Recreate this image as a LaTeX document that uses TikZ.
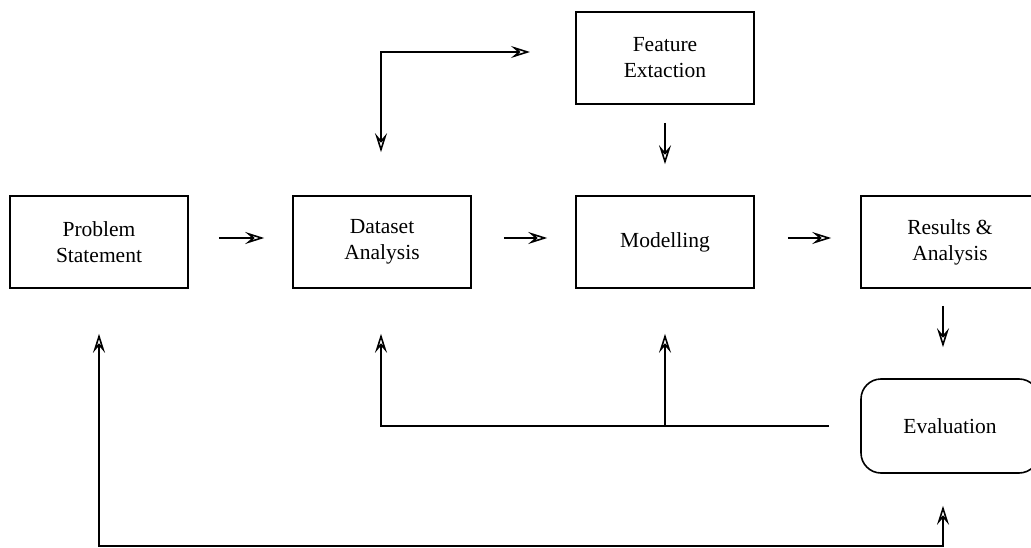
\documentclass[tikz,border=0pt]{standalone}
\usepackage{fontspec}
\setmainfont{Liberation Serif}
\usetikzlibrary{arrows.meta}
\begin{document}
\begin{tikzpicture}[x=1pt,y=-1pt,
  box/.style={draw,line width=1.6pt,minimum width=178pt,minimum height=92pt,align=center,
    font=\fontsize{21.5}{26}\selectfont,inner sep=0pt},
  rbox/.style={box,rounded corners=20pt,minimum height=94pt},
  tip/.tip={Stealth[length=19pt,width=12pt,inset=7pt,open,line width=1.6pt]},
  conn/.style={line width=1.6pt}
]
\useasboundingbox (0,0) rectangle (1031,548);
\node[box] (ps) at (99,242) {Problem\\Statement};
\node[box] (da) at (382,242) {Dataset\\Analysis};
\node[box] (mo) at (665,242) {Modelling};
\node[box] (ra) at (950,242) {Results \&\\Analysis};
\node[box] (fe) at (665,58) {Feature\\Extaction};
\node[rbox] (ev) at (950,426) {Evaluation};

\draw[conn,-tip,shorten <=30pt,shorten >=28pt] ([yshift=4pt]ps.east) -- ([yshift=4pt]da.west);
\draw[conn,-tip,shorten <=32pt,shorten >=28pt] ([yshift=4pt]da.east) -- ([yshift=4pt]mo.west);
\draw[conn,-tip,shorten <=33pt,shorten >=29pt] ([yshift=4pt]mo.east) -- ([yshift=4pt]ra.west);
\draw[conn,-tip,shorten <=18pt,shorten >=31pt] (fe.south) -- (mo.north);
\draw[conn,-tip,shorten <=17pt,shorten >=31pt] ([xshift=-7pt]ra.south) -- ([xshift=-7pt]ev.north);

\coordinate (lt) at (381,52);
\coordinate (lr) at (530,52);
\draw[conn,tip-tip] ([xshift=-1pt,yshift=43pt]da.north) -- (lt) -- (lr);

\coordinate (fb) at (665,426);
\draw[conn,-tip] ([xshift=-31pt]ev.west) -| ([xshift=-1pt,yshift=-45pt]da.south);
\draw[conn,-tip] (fb) -- ([yshift=-45pt]mo.south);

\coordinate (bl) at (99,546);
\draw[conn,tip-tip] ([yshift=-45pt]ps.south) -- (bl) -| ([xshift=-7pt,yshift=-32pt]ev.south);
\end{tikzpicture}
\end{document}
